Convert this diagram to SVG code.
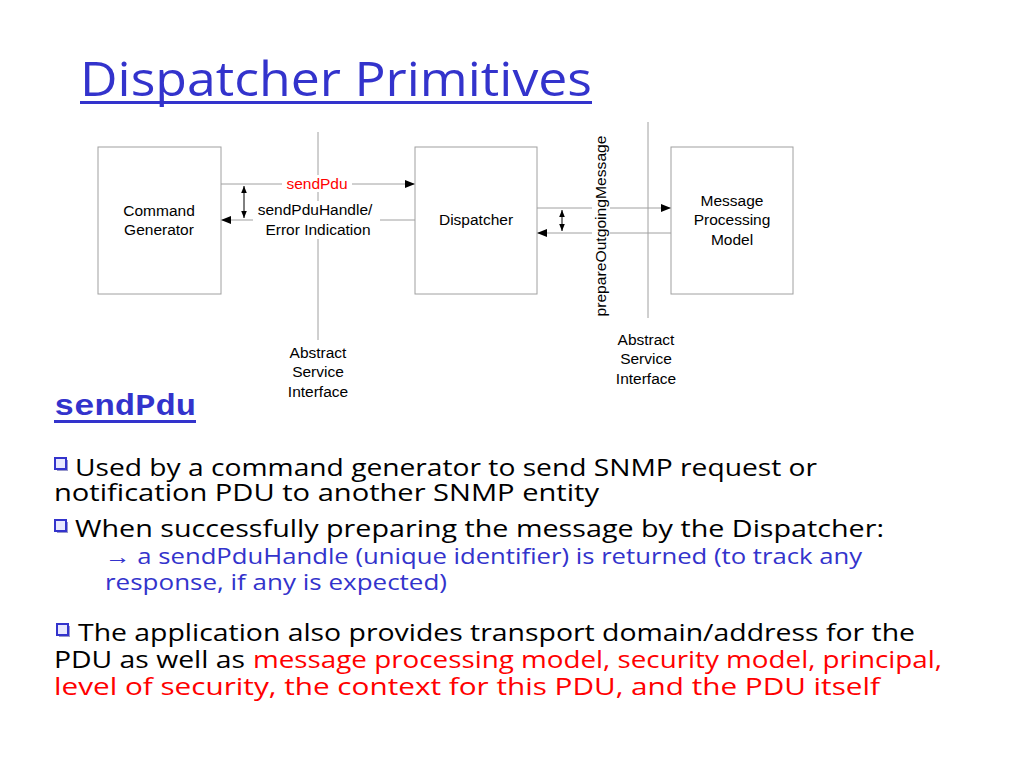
<svg xmlns="http://www.w3.org/2000/svg" width="1024" height="768" viewBox="0 0 1024 768">
<defs>
<style>
.box{fill:#fff;stroke:#a0a0a0;stroke-width:1}
.ln{stroke:#a0a0a0;stroke-width:1;fill:none}
.lbl{font-family:"Liberation Sans",Arial,sans-serif;font-size:15.5px;fill:#000;text-anchor:middle}
.body{font-family:"Open Sans","Noto Sans",sans-serif;font-size:24px;fill:#000}
.blue{font-family:"Open Sans","Noto Sans",sans-serif;font-size:21px;fill:#3333CC}
.red{fill:#FF0000}
.bul{fill:#E8E8FF;stroke:#3333CC;stroke-width:2}
.bsh{fill:#9999cc}
</style>
<marker id="ah" viewBox="0 0 10 10" refX="10" refY="5" markerWidth="10" markerHeight="10" markerUnits="userSpaceOnUse" orient="auto">
<path d="M0,1 L10,5 L0,9 Z" fill="#000"/>
</marker>
<marker id="ahs" viewBox="0 0 10 10" refX="10" refY="5" markerWidth="7" markerHeight="7" markerUnits="userSpaceOnUse" orient="auto">
<path d="M0,1 L10,5 L0,9 Z" fill="#000"/>
</marker>
</defs>
<rect width="1024" height="768" fill="#fff"/>

<g id="title">
<text x="80" y="96" font-family="Open Sans,Noto Sans,sans-serif" font-size="47" fill="#3333CC" textLength="512" lengthAdjust="spacingAndGlyphs">Dispatcher Primitives</text>
<rect x="80" y="101" width="512" height="3" fill="#3333CC"/>
</g>

<g id="connectors">
<line class="ln" x1="318" y1="132" x2="318" y2="340"/>
<line class="ln" x1="648" y1="122" x2="648" y2="318"/>
<line x1="221" y1="184" x2="415" y2="184" stroke="#a0a0a0" marker-end="url(#ah)"/>
<line x1="415" y1="220" x2="221" y2="220" stroke="#a0a0a0" marker-end="url(#ah)"/>
<line x1="244" y1="202" x2="244" y2="186" stroke="#000" marker-end="url(#ahs)"/>
<line x1="244" y1="202" x2="244" y2="218" stroke="#000" marker-end="url(#ahs)"/>
<line x1="537" y1="208" x2="671" y2="208" stroke="#a0a0a0" marker-end="url(#ah)"/>
<line x1="671" y1="233" x2="537" y2="233" stroke="#a0a0a0" marker-end="url(#ah)"/>
<line x1="562" y1="220" x2="562" y2="210" stroke="#000" marker-end="url(#ahs)"/>
<line x1="562" y1="220" x2="562" y2="231" stroke="#000" marker-end="url(#ahs)"/>
<rect x="282" y="175" width="70" height="17" fill="#fff"/>
<text class="lbl" x="317" y="189" style="fill:#FF0000">sendPdu</text>
<rect x="253" y="201" width="127" height="38" fill="#fff"/>
<text class="lbl" x="315" y="215">sendPduHandle/</text>
<text class="lbl" x="318" y="235">Error Indication</text>
<rect x="592" y="134" width="18" height="184" fill="#fff"/>
<text class="lbl" transform="translate(606,226) rotate(-90)" textLength="181" lengthAdjust="spacingAndGlyphs">prepareOutgoingMessage</text>
<text class="lbl" x="318" y="358">Abstract</text>
<text class="lbl" x="318" y="377">Service</text>
<text class="lbl" x="318" y="397">Interface</text>
<text class="lbl" x="646" y="345">Abstract</text>
<text class="lbl" x="646" y="364">Service</text>
<text class="lbl" x="646" y="384">Interface</text>
</g>

<g id="command-generator">
<rect class="box" x="98" y="147" width="123" height="147"/>
<text class="lbl" x="159" y="216">Command</text>
<text class="lbl" x="159" y="235">Generator</text>
</g>
<g id="dispatcher">
<rect class="box" x="415" y="147" width="122" height="147"/>
<text class="lbl" x="476" y="225">Dispatcher</text>
</g>
<g id="message-processing-model">
<rect class="box" x="671" y="147" width="122" height="147"/>
<text class="lbl" x="732" y="206">Message</text>
<text class="lbl" x="732" y="225">Processing</text>
<text class="lbl" x="732" y="245">Model</text>
</g>

<g id="heading">
<text x="54" y="415" font-family="Liberation Mono,Courier New,monospace" font-weight="bold" font-size="30" fill="#3333CC" textLength="142" lengthAdjust="spacingAndGlyphs">sendPdu</text>
<rect x="54" y="420" width="142" height="3" fill="#3333CC"/>
</g>

<g id="bullets">
<rect class="bsh" x="57" y="460" width="11" height="11"/>
<rect class="bul" x="55" y="458" width="11" height="11"/>
<text class="body" x="75" y="476" textLength="742" lengthAdjust="spacingAndGlyphs">Used by a command generator to send SNMP request or</text>
<text class="body" x="54" y="501" textLength="545" lengthAdjust="spacingAndGlyphs">notification PDU to another SNMP entity</text>

<rect class="bsh" x="57" y="522" width="11" height="11"/>
<rect class="bul" x="55" y="520" width="11" height="11"/>
<text class="body" x="75" y="537" textLength="809" lengthAdjust="spacingAndGlyphs">When successfully preparing the message by the Dispatcher:</text>
<text class="blue" x="105" y="564" textLength="757" lengthAdjust="spacingAndGlyphs">→ a sendPduHandle (unique identifier) is returned (to track any</text>
<text class="blue" x="105" y="590" textLength="342" lengthAdjust="spacingAndGlyphs">response, if any is expected)</text>

<rect class="bsh" x="59" y="626" width="11" height="11"/>
<rect class="bul" x="57" y="624" width="11" height="11"/>
<text class="body" x="78" y="641" textLength="837" lengthAdjust="spacingAndGlyphs">The application also provides transport domain/address for the</text>
<text class="body" x="54" y="668" textLength="191" lengthAdjust="spacingAndGlyphs">PDU as well as</text>
<text class="body red" x="253" y="668" textLength="689" lengthAdjust="spacingAndGlyphs">message processing model, security model, principal,</text>
<text class="body red" x="54" y="695" textLength="826" lengthAdjust="spacingAndGlyphs">level of security, the context for this PDU, and the PDU itself</text>
</g>
</svg>
